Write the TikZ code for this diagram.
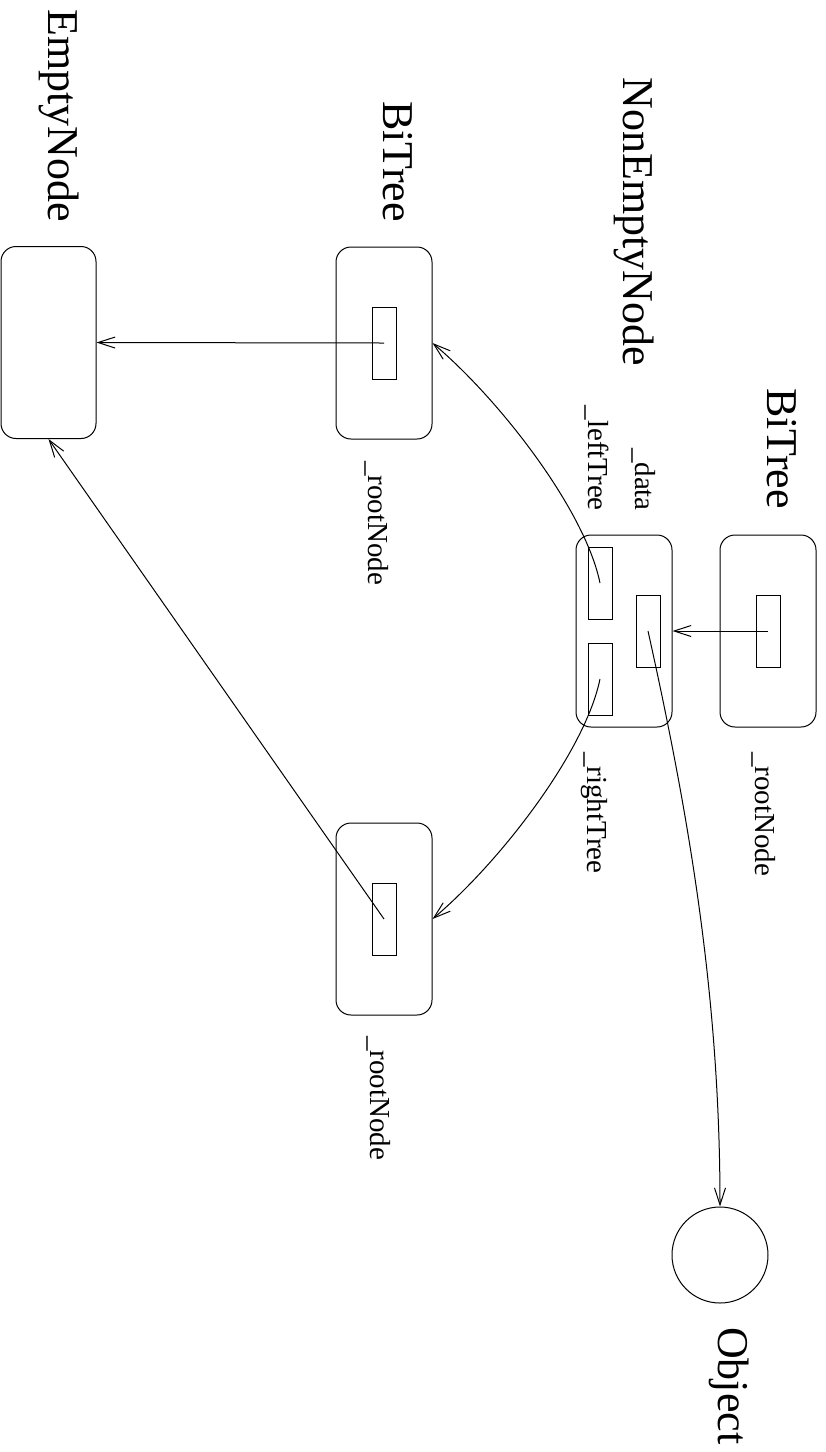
\documentclass[tikz,border=0pt]{standalone}
\usepackage{fontspec}
\setmainfont{Liberation Serif}
\usetikzlibrary{arrows.meta}
\begin{document}
\begin{tikzpicture}[x=1pt,y=-1pt,
  lw/.style={line width=1pt},
  roundbox/.style={draw,lw,rounded corners=15pt,minimum width=96pt,minimum height=192pt,inner sep=0pt},
  slot/.style={draw,lw,minimum width=24pt,minimum height=72pt,inner sep=0pt},
  circ/.style={draw,lw,circle,minimum size=96pt,inner sep=0pt},
  big/.style={rotate=-90,inner sep=0pt,font=\fontsize{44}{50}\selectfont},
  small/.style={rotate=-90,inner sep=0pt,font=\fontsize{29}{33}\selectfont},
  arr/.style={lw,-{Straight Barb[length=17pt,width=11pt,line width=1pt]}}]
\useasboundingbox (0,0) rectangle (826,1452);
% boxes
\node[roundbox,minimum width=95pt] (empty) at (48.5,342.5) {};
\node[roundbox] (bt2) at (384,343) {};
\node[roundbox] (bt3) at (384,919) {};
\node[roundbox] (ne) at (624,631) {};
\node[roundbox] (bt1) at (768,631) {};
\node[circ] (obj) at (720,1255) {};
% slots
\node[slot] (bt1in) at (768,631) {};
\node[slot] (bt2in) at (384,343) {};
\node[slot] (bt3in) at (384,919) {};
\node[slot] (ned) at (648,631) {};
\node[slot] (nel) at (600,583) {};
\node[slot] (ner) at (600,679) {};
% labels
\node[big,anchor=base east] (lempty) at (48,222) {EmptyNode};
\node[big,anchor=base east] (lbt2) at (383,222) {BiTree};
\node[big,anchor=base east] (lne) at (623,366) {NonEmptyNode};
\node[big,anchor=base east] (lbt1) at (767,509) {BiTree};
\node[big,anchor=base west] (lobj) at (718,1327) {Object};
\node[small,anchor=base east] (ldata) at (635,511) {\_data};
\node[small,anchor=base east] (lleft) at (588,511) {\_leftTree};
\node[small,anchor=base west] (lright) at (587,752) {\_rightTree};
\node[small,anchor=base west] (lroot1) at (755,752) {\_rootNode};
\node[small,anchor=base west] (lroot2) at (368,461) {\_rootNode};
\node[small,anchor=base west] (lroot3) at (370,1036) {\_rootNode};
% connectors
\draw[arr] (bt1in.center) -- (ne.east);
\draw[arr] (bt2in.center) -- (empty.east);
\draw[arr] (bt3in.center) -- (empty.south);
\draw[arr] (nel.center) .. controls (585,510) and (500,400) .. (bt2.east);
\draw[arr] (ner.center) .. controls (585,752) and (500,862) .. (bt3.east);
\draw[arr] (ned.center) .. controls (690,820) and (720,1000) .. (obj.north);
\end{tikzpicture}
\end{document}
